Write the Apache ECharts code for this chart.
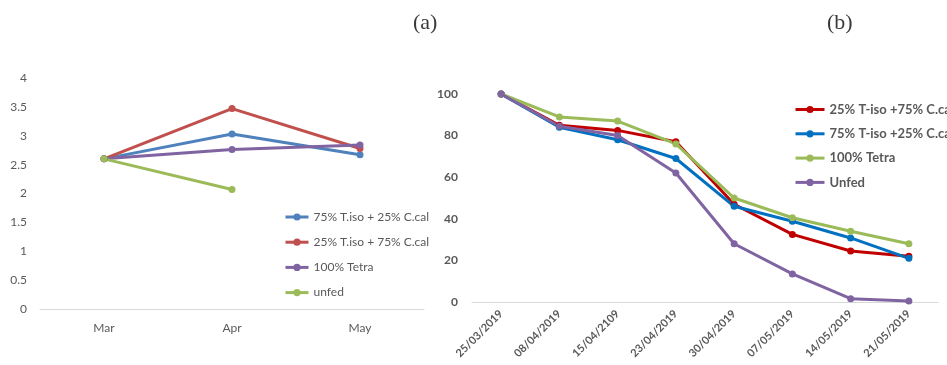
<!DOCTYPE html>
<html>
<head>
<meta charset="utf-8">
<script src="https://cdn.jsdelivr.net/npm/echarts@6/dist/echarts.min.js"></script>
<style>
  html, body { margin: 0; padding: 0; background: #fff; }
  #chart { width: 947px; height: 365px; }
</style>
</head>
<body>
<div id="chart"></div>
<script>
// Panel (a): monthly values
const monthsA = ['Mar', 'Apr', 'May'];
const a_75iso = [2.60, 3.03, 2.67];
const a_25iso = [2.60, 3.47, 2.78];
const a_tetra = [2.60, 2.76, 2.84];
const a_unfed = [2.60, 2.07, null];
const yTicksA = [0, 0.5, 1, 1.5, 2, 2.5, 3, 3.5, 4];

// Panel (b): survival over sampling dates
const datesB = ['25/03/2019', '08/04/2019', '15/04/2109', '23/04/2019', '30/04/2019', '07/05/2019', '14/05/2019', '21/05/2019'];
const b_25iso = [100, 85, 82.5, 77, 47, 32.5, 24.5, 22];
const b_75iso = [100, 84, 78, 69, 46, 38.8, 30.8, 21];
const b_tetra = [100, 89, 87, 76, 50, 40.5, 34, 28];
const b_unfed = [100, 84.5, 80, 62, 28, 13.5, 1.6, 0.5];
const yTicksB = [0, 20, 40, 60, 80, 100];

const grey = '#595959';
const font = 'Lato, "Open Sans", sans-serif';

// series names carry a panel prefix so both legends stay independent
const strip = n => n.split('|')[1];

function lineSeries(name, data, color, xi, width) {
  return {
    name: name, type: 'line', data: data,
    xAxisIndex: xi, yAxisIndex: xi,
    symbol: 'circle', symbolSize: 7,
    lineStyle: { color: color, width: width },
    itemStyle: { color: color },
    clip: false, animation: false,
    connectNulls: false
  };
}

const colA = { blue: '#4F81BD', red: '#C0504D', purple: '#8064A2', green: '#9BBB59' };
const colB = { red: '#C00000', blue: '#0070C0', green: '#9BBB59', purple: '#8064A2' };

const titleStyle = { fontFamily: '"Liberation Serif", serif', fontSize: 22, fontWeight: 'normal', color: '#3a3a3a' };

const chart = echarts.init(document.getElementById('chart'), null, { renderer: 'canvas' });
chart.setOption({
  backgroundColor: '#fff',
  animation: false,
  title: [
    { text: '(a)', left: 408, top: 7, textStyle: titleStyle },
    { text: '(b)', left: 822, top: 7, textStyle: titleStyle }
  ],
  grid: [
    { left: 40, top: 78, width: 384, height: 231 },
    { left: 472, top: 94, width: 466, height: 208 }
  ],
  xAxis: [
    {
      gridIndex: 0, type: 'category', data: monthsA, boundaryGap: true,
      axisLine: { lineStyle: { color: '#d9d9d9', width: 1 } },
      axisTick: { show: false },
      axisLabel: { color: grey, fontFamily: font, fontSize: 12, margin: 13 }
    },
    {
      gridIndex: 1, type: 'category', data: datesB, boundaryGap: true,
      axisLine: { lineStyle: { color: '#d9d9d9', width: 1 } },
      axisTick: { show: false },
      axisLabel: { color: grey, fontFamily: font, fontSize: 11, fontWeight: 'bold', rotate: 45, margin: 10, interval: 0 }
    }
  ],
  yAxis: [
    {
      gridIndex: 0, type: 'value', min: yTicksA[0], max: yTicksA[yTicksA.length - 1], interval: 0.5,
      axisLine: { show: false }, axisTick: { show: false }, splitLine: { show: false },
      axisLabel: { color: grey, fontFamily: font, fontSize: 12, margin: 13 }
    },
    {
      gridIndex: 1, type: 'value', min: yTicksB[0], max: yTicksB[yTicksB.length - 1], interval: 20,
      axisLine: { show: false }, axisTick: { show: false }, splitLine: { show: false },
      axisLabel: { color: grey, fontFamily: font, fontSize: 12, fontWeight: 'bold', margin: 14 }
    }
  ],
  legend: [
    {
      data: ['a|75% T.iso + 25% C.cal', 'a|25% T.iso + 75% C.cal', 'a|100% Tetra', 'a|unfed'],
      orient: 'vertical', left: 279, top: 206, itemWidth: 23, itemHeight: 9, itemGap: 13.2,
      formatter: strip,
      lineStyle: { width: 3 },
      textStyle: { color: grey, fontFamily: font, fontSize: 12 }
    },
    {
      data: ['b|25% T-iso +75% C.cal', 'b|75% T-iso +25% C.cal', 'b|100% Tetra', 'b|Unfed'],
      orient: 'vertical', left: 789, top: 98, itemWidth: 29, itemHeight: 9, itemGap: 11.3,
      formatter: strip,
      lineStyle: { width: 3 },
      textStyle: { color: grey, fontFamily: font, fontSize: 13, fontWeight: 'bold' }
    }
  ],
  series: [
    lineSeries('a|75% T.iso + 25% C.cal', a_75iso, colA.blue, 0, 3),
    lineSeries('a|25% T.iso + 75% C.cal', a_25iso, colA.red, 0, 3),
    lineSeries('a|100% Tetra', a_tetra, colA.purple, 0, 3),
    lineSeries('a|unfed', a_unfed, colA.green, 0, 3),
    lineSeries('b|25% T-iso +75% C.cal', b_25iso, colB.red, 1, 3),
    lineSeries('b|75% T-iso +25% C.cal', b_75iso, colB.blue, 1, 3),
    lineSeries('b|100% Tetra', b_tetra, colB.green, 1, 3),
    lineSeries('b|Unfed', b_unfed, colB.purple, 1, 3)
  ]
});
</script>
</body>
</html>
